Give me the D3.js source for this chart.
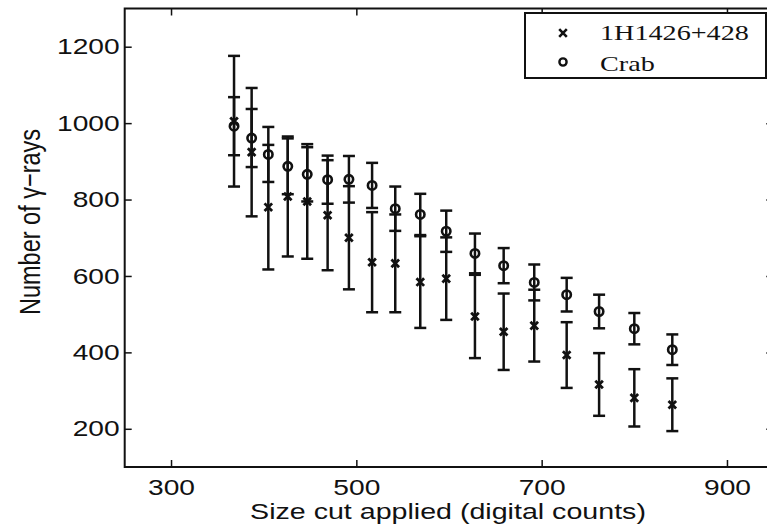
<!DOCTYPE html>
<html>
<head>
  <meta charset="utf-8">
  <title>Number of gamma-rays vs size cut</title>
  <style>
    body { margin: 0; background: #fff; }
    svg { display: block; }
    .tickTxt { font-family: "Liberation Sans", Arial, sans-serif; font-size: 22px; fill: #111; }
    .legTxt { font-family: "Liberation Serif", "Times New Roman", serif; font-size: 22px; fill: #111; }
  </style>
</head>
<body>
<div id="container"></div>
<script src="https://cdnjs.cloudflare.com/ajax/libs/d3/7.8.5/d3.min.js"></script>
<script>
// size cut (digital counts) for each point
var sizeCut = [368, 387, 405, 426, 447, 469, 492, 517, 542, 569, 597, 628, 659, 692, 727, 762, 800, 841];
// 1H1426+428 counts and errors
var srcCounts = [1005, 924, 780, 808, 795, 759, 700, 636, 633, 584, 593, 494, 454, 470, 393, 316, 281, 263];
var srcErr = [171, 168, 163, 157, 150, 144, 135, 131, 128, 120, 108, 109, 100, 94, 86, 82, 75, 69];
// Crab counts and errors
var crabCounts = [992, 961, 918, 887, 866, 852, 853, 837, 776, 761, 717, 659, 627, 583, 551, 507, 462, 407];
var crabErr = [76, 76, 72, 73, 71, 63, 61, 59, 58, 54, 54, 52, 46, 47, 44, 44, 41, 40];
// tick labels
var xTicks = [300, 500, 700, 900];
var yTicks = [200, 400, 600, 800, 1000, 1200];
var legendNames = ["1H1426+428", "Crab"];

var width = 767, height = 526;
var margin = {left: 124.7, right: 773.3, top: 8.5, bottom: 467};
var stretchK = 1.28; // the original figure is stretched sideways

var svg = d3.select("#container")
  .append("svg")
  .attr("width", width)
  .attr("height", height);

var x = d3.scaleLinear().domain([250, 950]).range([margin.left, margin.right]);
var y = d3.scaleLinear().domain([100, 1300]).range([margin.bottom, margin.top]);

// widen text horizontally to match the stretched original
function stretch(sel, k) {
  sel.each(function() {
    var w = this.getComputedTextLength();
    d3.select(this).attr("textLength", w * k).attr("lengthAdjust", "spacingAndGlyphs");
  });
}

//******* Axes (ticks point inward on all four sides) *******
var xAxis = svg.append("g")
  .attr("transform", `translate(0, ${margin.bottom})`)
  .call(d3.axisBottom(x).tickValues(xTicks).tickSizeInner(-7).tickSizeOuter(0).tickPadding(12));
var yAxis = svg.append("g")
  .attr("transform", `translate(${margin.left}, 0)`)
  .call(d3.axisLeft(y).tickValues(yTicks).tickFormat(d3.format("d"))
    .tickSizeInner(-7).tickSizeOuter(0).tickPadding(5));
svg.append("g")
  .attr("transform", `translate(0, ${margin.top})`)
  .call(d3.axisTop(x).tickValues(xTicks).tickSizeInner(-7).tickSizeOuter(0).tickFormat(""));
svg.append("g")
  .attr("transform", `translate(${margin.right}, 0)`)
  .call(d3.axisRight(y).tickValues(yTicks).tickSizeInner(-7).tickSizeOuter(0).tickFormat(""));

svg.selectAll(".domain").remove();
svg.selectAll(".tick line").attr("stroke", "#111").attr("stroke-width", 1.5);
svg.selectAll(".tick text").attr("class", "tickTxt").attr("font-size", null).attr("font-family", null);
stretch(xAxis.selectAll("text"), stretchK);
stretch(yAxis.selectAll("text"), stretchK);

svg.append("rect")
  .attr("x", margin.left)
  .attr("y", margin.top)
  .attr("width", margin.right - margin.left)
  .attr("height", margin.bottom - margin.top)
  .attr("fill", "none")
  .attr("stroke", "#111")
  .attr("stroke-width", 2);

//******* Axis labels *******
svg.append("text")
  .attr("class", "tickTxt")
  .attr("x", (margin.left + margin.right) / 2 - 1)
  .attr("y", 519)
  .attr("text-anchor", "middle")
  .text("Size cut applied (digital counts)")
  .call(stretch, 1.3);

svg.append("text")
  .attr("class", "tickTxt")
  .style("font-size", "23.5px")
  .attr("transform", "translate(40, 222) scale(1.28, 1) rotate(-90)")
  .attr("text-anchor", "middle")
  .text("Number of γ−rays");

//******* Error bars *******
var capW = 6;
function drawBars(vals, errs, cls) {
  var g = svg.append("g").attr("class", cls)
    .attr("stroke", "#111").attr("stroke-width", 2.5);
  var bars = g.selectAll("g").data(vals).enter().append("g");
  bars.append("line")
    .attr("x1", function(d, i) { return x(sizeCut[i]); })
    .attr("x2", function(d, i) { return x(sizeCut[i]); })
    .attr("y1", function(d, i) { return y(d - errs[i]); })
    .attr("y2", function(d, i) { return y(d + errs[i]); });
  bars.append("line")
    .attr("x1", function(d, i) { return x(sizeCut[i]) - capW; })
    .attr("x2", function(d, i) { return x(sizeCut[i]) + capW; })
    .attr("y1", function(d, i) { return y(d + errs[i]); })
    .attr("y2", function(d, i) { return y(d + errs[i]); });
  bars.append("line")
    .attr("x1", function(d, i) { return x(sizeCut[i]) - capW; })
    .attr("x2", function(d, i) { return x(sizeCut[i]) + capW; })
    .attr("y1", function(d, i) { return y(d - errs[i]); })
    .attr("y2", function(d, i) { return y(d - errs[i]); });
}
drawBars(srcCounts, srcErr, "srcBars");
drawBars(crabCounts, crabErr, "crabBars");

//******* Markers *******
var cross = 3.8;
function crossPath(cx, cy) {
  return `M${cx - cross},${cy - cross}L${cx + cross},${cy + cross}M${cx - cross},${cy + cross}L${cx + cross},${cy - cross}`;
}
svg.append("g").selectAll("path")
  .data(srcCounts).enter().append("path")
  .attr("d", function(d, i) { return crossPath(x(sizeCut[i]), y(d)); })
  .attr("stroke", "#111").attr("stroke-width", 2.8).attr("fill", "none");
svg.append("g").selectAll("circle")
  .data(crabCounts).enter().append("circle")
  .attr("cx", function(d, i) { return x(sizeCut[i]); })
  .attr("cy", function(d) { return y(d); })
  .attr("r", 4.2)
  .attr("stroke", "#111").attr("stroke-width", 2.6).attr("fill", "none");

//******* Legend *******
var legend = svg.append("g");
legend.append("rect")
  .attr("x", 525).attr("y", 13).attr("width", 241).attr("height", 65)
  .attr("fill", "#fff").attr("stroke", "#111").attr("stroke-width", 2);
legend.append("path")
  .attr("d", crossPath(563, 33))
  .attr("stroke", "#111").attr("stroke-width", 2.6).attr("fill", "none");
legend.append("circle")
  .attr("cx", 563).attr("cy", 62).attr("r", 3.6)
  .attr("stroke", "#111").attr("stroke-width", 2.4).attr("fill", "none");
legend.selectAll(".legTxt")
  .data(legendNames).enter().append("text")
  .attr("class", "legTxt")
  .attr("x", 600)
  .attr("y", function(d, i) { return 40 + i * 31; })
  .text(function(d) { return d; })
  .call(stretch, 1.28);
</script>
</body>
</html>
